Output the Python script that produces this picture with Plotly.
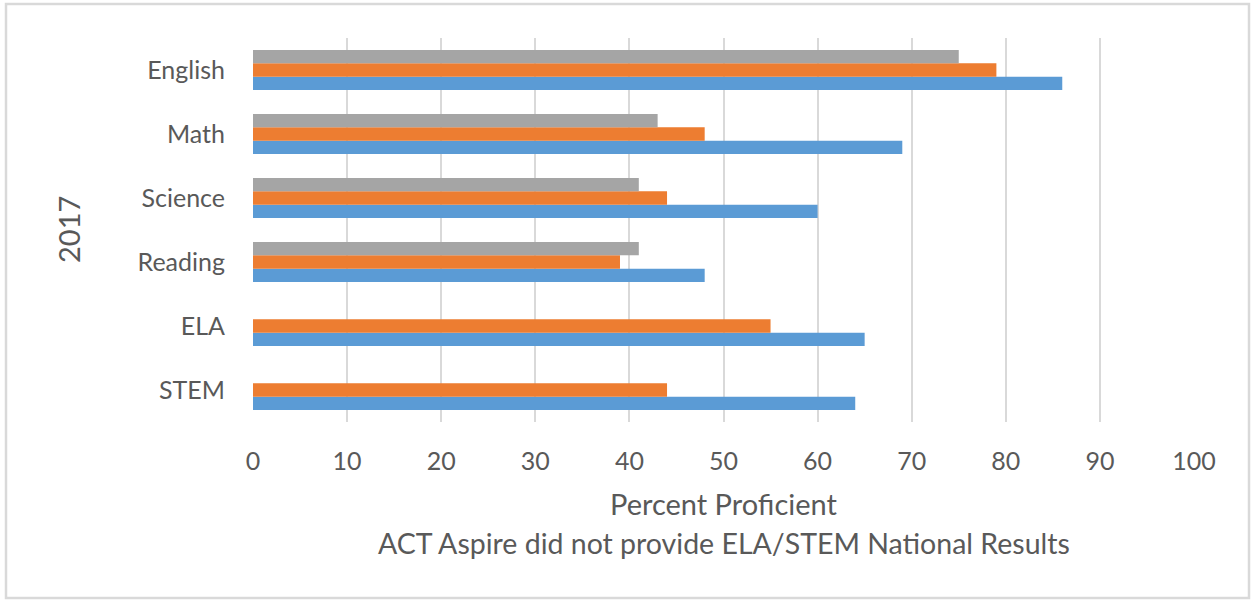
import plotly.graph_objects as go

categories = ["English", "Math", "Science", "Reading", "ELA", "STEM"]
series_blue = [86, 69, 60, 48, 65, 64]
series_orange = [79, 48, 44, 39, 55, 44]
series_gray = [75, 43, 41, 41, None, None]
x_ticks = [0, 10, 20, 30, 40, 50, 60, 70, 80, 90, 100]

W, H = 1252, 600
ML, MR, MT, MB = 253, 58, 38, 178
FONT = "Lato"
TXT = "#595959"

fig = go.Figure()
for name, vals, col in [("Blue", series_blue, "#5B9BD5"),
                        ("Orange", series_orange, "#ED7D31"),
                        ("Gray", series_gray, "#A5A5A5")]:
    fig.add_trace(go.Bar(y=categories, x=vals, orientation="h", name=name,
                         marker=dict(color=col, line=dict(width=0))))

pw = W - ML - MR
ph = H - MT - MB

def px_x(p):
    return (p - ML) / pw

def px_y(p):
    return (H - MB - p) / ph

fig.update_layout(
    width=W, height=H,
    margin=dict(l=ML, r=MR, t=MT, b=MB),
    paper_bgcolor="white", plot_bgcolor="white",
    barmode="group", bargap=0.375, bargroupgap=0,
    showlegend=False,
    font=dict(family=FONT, color=TXT),
    xaxis=dict(range=[0, 100], tickvals=x_ticks, showgrid=True,
               gridcolor="#D9D9D9", gridwidth=2, zeroline=False,
               showline=False, ticks="", ticklabelstandoff=22,
               tickfont=dict(size=25, color=TXT, family=FONT)),
    yaxis=dict(categoryorder="array", categoryarray=categories[::-1],
               showgrid=False, zeroline=False, showline=False, ticks="",
               ticklabelstandoff=27,
               tickfont=dict(size=25, color=TXT, family=FONT)),
    shapes=[dict(type="rect", xref="paper", yref="paper",
                 x0=px_x(6), x1=px_x(1249), y0=px_y(598), y1=px_y(4),
                 line=dict(color="#D9D9D9", width=2.5), fillcolor="rgba(0,0,0,0)",
                 layer="below")],
    annotations=[
        dict(text="2017", xref="paper", yref="paper", x=px_x(68), y=0.5,
             textangle=-90, showarrow=False, xanchor="center", yanchor="middle",
             font=dict(size=29, color=TXT, family=FONT)),
        dict(text="Percent Proficient", xref="paper", yref="paper",
             x=0.5, y=px_y(503), showarrow=False, xanchor="center", yanchor="middle",
             font=dict(size=29, color=TXT, family=FONT)),
        dict(text="ACT Aspire did not provide ELA/STEM National Results",
             xref="paper", yref="paper", x=0.5, y=px_y(543), showarrow=False,
             xanchor="center", yanchor="middle",
             font=dict(size=28.5, color=TXT, family=FONT)),
    ],
)

fig.write_html("out.html", config={"displayModeBar": False},
               post_script="document.body.style.margin='0';document.body.style.overflow='hidden';")
